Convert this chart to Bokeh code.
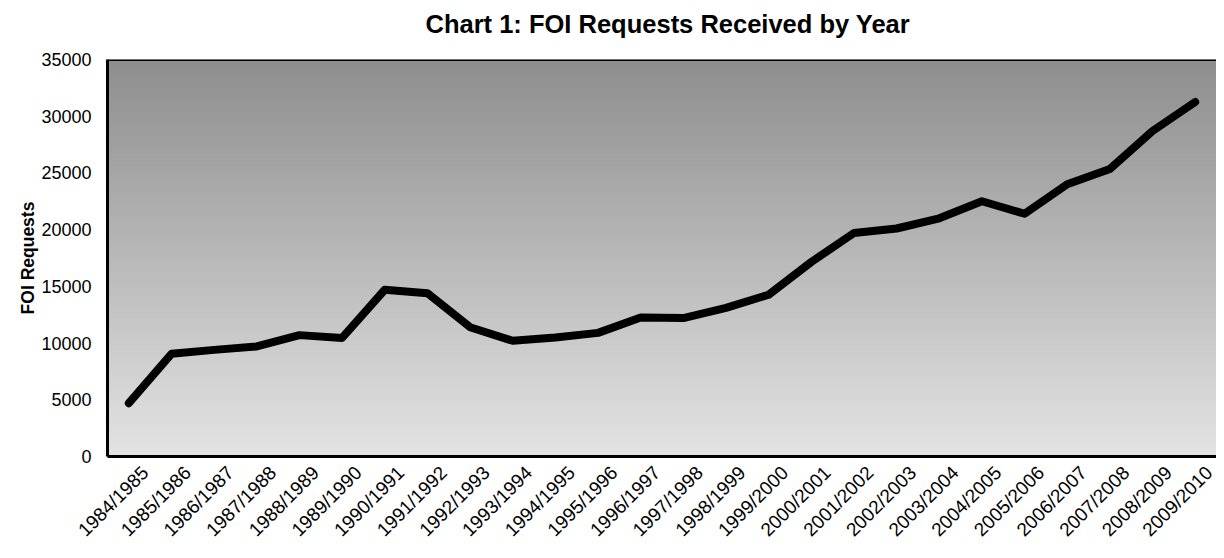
import numpy as np
from math import pi
from bokeh.plotting import figure
from bokeh.models import FixedTicker, Span, Title
from bokeh.embed import file_html
from bokeh.resources import INLINE

periods = ["1984/1985", "1985/1986", "1986/1987", "1987/1988", "1988/1989",
           "1989/1990", "1990/1991", "1991/1992", "1992/1993", "1993/1994",
           "1994/1995", "1995/1996", "1996/1997", "1997/1998", "1998/1999",
           "1999/2000", "2000/2001", "2001/2002", "2002/2003", "2003/2004",
           "2004/2005", "2005/2006", "2006/2007", "2007/2008", "2008/2009",
           "2009/2010"]
requests = [4700, 9050, 9400, 9700, 10700, 10450, 14700, 14400, 11400, 10200,
            10500, 10900, 12250, 12200, 13100, 14260, 17150, 19700, 20100, 21000,
            22500, 21400, 24000, 25350, 28700, 31250]
y_ticks = [0, 5000, 10000, 15000, 20000, 25000, 30000, 35000]

FONT = "Liberation Sans"
n = len(periods)
xs = list(range(n))
LABEL_SHIFT = 0.38  # Excel-like placement of slanted category labels
label_pos = [i + LABEL_SHIFT for i in xs]

p = figure(width=1216, height=550, output_backend="svg", toolbar_location=None,
           x_range=(-0.5, n - 0.5), y_range=(0, 35000),
           min_border_left=107, min_border_top=59, min_border_right=0,
           min_border_bottom=93)
p.background_fill_color = "white"
p.border_fill_color = "white"
p.outline_line_color = None

# gradient background of plot area
N = 256
top = np.array([0x8e, 0x8e, 0x8e], dtype=float)
bot = np.array([0xe4, 0xe4, 0xe4], dtype=float)
img = np.empty((N, 1), dtype=np.uint32)
view = img.view(dtype=np.uint8).reshape((N, 1, 4))
for i in range(N):
    c = bot + (top - bot) * i / (N - 1)
    view[i, 0, 0] = int(c[0]); view[i, 0, 1] = int(c[1]); view[i, 0, 2] = int(c[2]); view[i, 0, 3] = 255
p.image_rgba(image=[img], x=-0.5, y=0, dw=n, dh=35000)

p.line(xs, requests, line_color="black", line_width=8, line_cap="round", line_join="round")

p.add_layout(Span(location=35000, dimension="width", line_color="black", line_width=3))
p.add_layout(Span(location=n - 0.5, dimension="height", line_color="#d0d0d0", line_width=1))

# small blank spacer between the frame and the title
spacer = Title(text=" ", text_font=FONT, text_font_size="8px", standoff=0)
p.add_layout(spacer, "above")
title = Title(text="Chart 1:  FOI Requests Received by Year", align="left",
              vertical_align="top",
              text_font=FONT, text_font_size="25.5px", text_font_style="bold",
              text_color="black", standoff=18, offset=318)
p.add_layout(title, "above")

p.xgrid.grid_line_color = None
p.ygrid.grid_line_color = "#505050"
p.ygrid.grid_line_width = 1.5
p.ygrid.ticker = FixedTicker(ticks=y_ticks)

p.yaxis.ticker = FixedTicker(ticks=y_ticks)
p.yaxis.axis_label = "FOI Requests"
p.yaxis.axis_label_text_font = FONT
p.yaxis.axis_label_text_font_size = "17.5px"
p.yaxis.axis_label_text_font_style = "bold"
p.yaxis.axis_label_text_color = "black"
p.yaxis.axis_label_standoff = 0
p.yaxis.axis_line_color = "black"
p.yaxis.axis_line_width = 3

p.xaxis.ticker = FixedTicker(ticks=label_pos)
p.xaxis.major_label_overrides = {pos: lab for pos, lab in zip(label_pos, periods)}
p.xaxis.major_label_orientation = pi / 4
p.xaxis.axis_line_color = "black"
p.xaxis.axis_line_width = 3

for ax in (p.xaxis, p.yaxis):
    ax.major_tick_line_color = None
    ax.minor_tick_line_color = None
    ax.major_label_text_font = FONT
    ax.major_label_text_color = "black"
p.yaxis.major_label_text_font_size = "18px"
p.xaxis.major_label_text_font_size = "19px"
p.yaxis.major_label_standoff = 10
p.xaxis.major_label_standoff = 7

open("out.html", "w").write(file_html(p, INLINE))
